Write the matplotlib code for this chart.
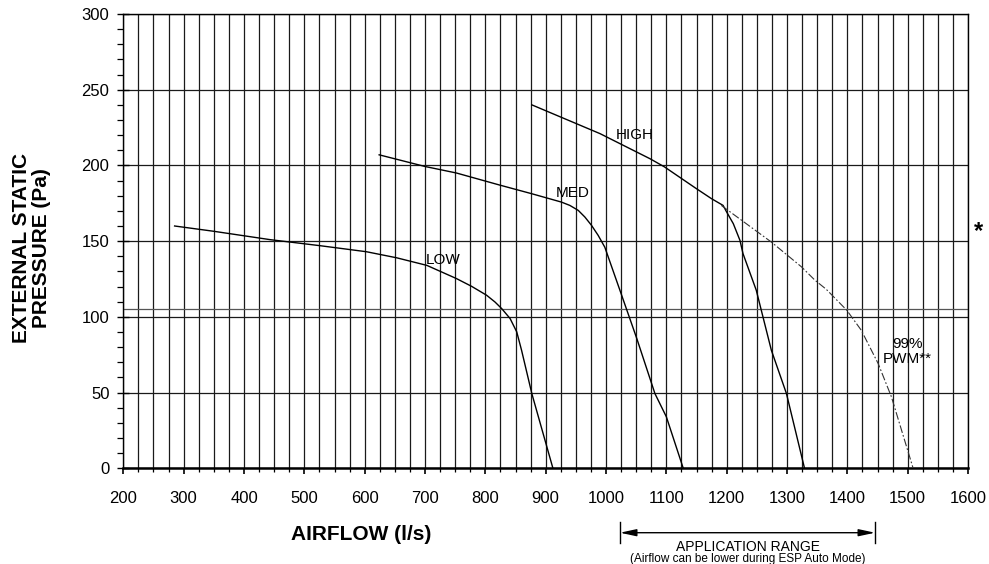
import numpy as np
import matplotlib
matplotlib.use("Agg")
import matplotlib.pyplot as plt
from matplotlib.ticker import MultipleLocator

plt.rcParams['font.family'] = ['Liberation Sans', 'DejaVu Sans']

# fan curves (airflow l/s, pressure Pa)
low_x = [285, 350, 443, 526, 603, 653, 703, 752, 777, 802, 816, 827, 841, 852, 860, 877, 912]
low_y = [160, 156.5, 151, 147, 143, 139, 134, 125.3, 120.2, 114.3, 109.8, 105.5, 98.9, 90.1, 78, 49.4, 0]

med_x = [624, 700, 752, 824, 877, 926, 940, 954, 965, 976, 987, 998, 1023, 1051, 1081, 1100, 1128]
med_y = [207, 199.3, 195, 187, 181.3, 175.8, 173.6, 170.3, 165.9, 160.4, 153.8, 146, 117.6, 85.7, 49.4, 34, 0]

high_x = [877, 990, 1073, 1097, 1150, 1175, 1194, 1197, 1200, 1211, 1222, 1227, 1249, 1274, 1299, 1329]
high_y = [240, 221, 204.4, 199, 184.6, 178, 173.6, 171.4, 169.2, 161.5, 150.5, 141.8, 117.6, 78, 49.4, 0]

pwm_x = [1191, 1274, 1324, 1346, 1365, 1399, 1423, 1451, 1473, 1509]
pwm_y = [173.6, 149.4, 133, 124.3, 118.2, 104.4, 91.2, 69.2, 47.2, 0]

curve_labels = ["LOW", "MED", "HIGH"]
label_x = [702, 916, 1016]
label_y = [137.4, 181.8, 220.4]

app_range = [1023, 1446]
extra_hline = 105

fig = plt.figure(figsize=(9.89, 5.64), dpi=100)
ax = fig.add_axes([0.1247, 0.1697, 0.8541, 0.8055])

ax.set_xlim(200, 1600)
ax.set_ylim(0, 300)

# grid
ax.xaxis.set_major_locator(MultipleLocator(100))
ax.xaxis.set_minor_locator(MultipleLocator(25))
ax.yaxis.set_major_locator(MultipleLocator(50))
ax.yaxis.set_minor_locator(MultipleLocator(10))
ax.xaxis.grid(True, which='both', color='#1a1a1a', lw=0.9)
ax.yaxis.grid(True, which='major', color='#1a1a1a', lw=0.9)
ax.axhline(extra_hline, color='#555555', lw=0.9)

for s in ax.spines.values():
    s.set_color('black')
    s.set_linewidth(1.0)
ax.spines['bottom'].set_linewidth(1.8)

ax.tick_params(axis='x', which='major', direction='out', length=4, width=1.2,
               pad=12, labelsize=12)
ax.tick_params(axis='x', which='minor', direction='out', length=3, width=0.9)
ax.tick_params(axis='y', which='major', direction='inout', length=8, width=1.0,
               pad=6, labelsize=12)
ax.tick_params(axis='y', which='minor', direction='out', length=4, width=0.9)
ax.set_axisbelow(True)

# curves
for xs, ys in [(low_x, low_y), (med_x, med_y), (high_x, high_y)]:
    ax.plot(xs, ys, color='black', lw=1.0, zorder=3, solid_joinstyle='round')
ax.plot(pwm_x, pwm_y, color='#333333', lw=0.8, linestyle=(0, (7, 2, 1.5, 2)), zorder=3)

for t, lx, ly in zip(curve_labels, label_x, label_y):
    ax.text(lx, ly, t, fontsize=11, ha='left', va='center', zorder=4)
ax.text(1500, 77, "99%\nPWM**", fontsize=11, ha='center', va='center',
        linespacing=1.1, zorder=4)

ax.text(1.0118, 0.522, "*", transform=ax.transAxes, fontsize=17,
        fontweight='bold', ha='center', va='center')

# axis labels
ax.text(0.281, -0.145, "AIRFLOW (l/s)", transform=ax.transAxes, fontsize=15,
        fontweight='bold', ha='center', va='center')
ax.text(-0.109, 0.485, "EXTERNAL STATIC\nPRESSURE (Pa)", transform=ax.transAxes,
        fontsize=15, fontweight='bold', ha='center', va='center', rotation=90,
        linespacing=1.05)

# application range arrow below the axis
trans = ax.get_xaxis_transform()
ax.annotate("", xy=(app_range[0], -0.1418), xytext=(app_range[1], -0.1418),
            xycoords=trans, textcoords=trans,
            arrowprops=dict(arrowstyle='<|-|>,head_length=0.7,head_width=0.15',
                            color='black', lw=1.0, mutation_scale=14,
                            shrinkA=0, shrinkB=0))
for xv in app_range:
    ax.plot([xv, xv], [-0.118, -0.164], transform=trans, color='black', lw=1.0,
            clip_on=False)
mid = (app_range[0] + app_range[1]) / 2
ax.text(mid, -0.181, "APPLICATION RANGE", transform=trans, fontsize=10,
        ha='center', va='baseline')
fig.text(ax.transData.transform((mid, 0))[0] / fig.bbox.width, 0.003,
         "(Airflow can be lower during ESP Auto Mode)",
         fontsize=8.5, ha='center', va='baseline')

fig.savefig("out.png", dpi=100)
